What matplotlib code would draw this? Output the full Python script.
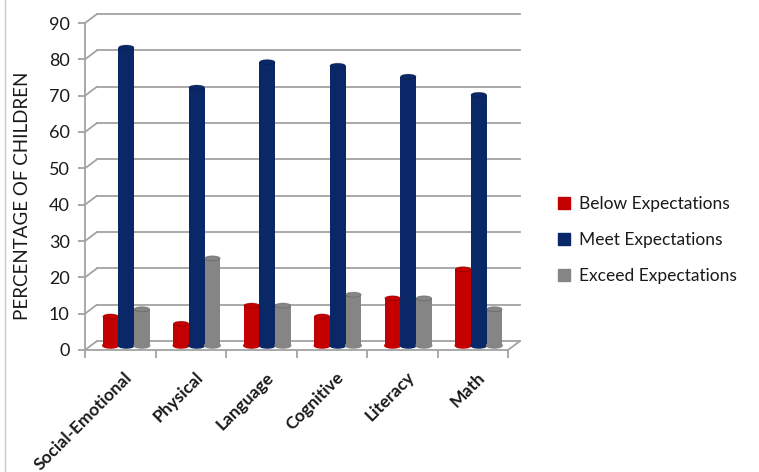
import matplotlib.pyplot as plt
from matplotlib.lines import Line2D
from matplotlib.patches import ConnectionPatch, Ellipse, Patch
from matplotlib.transforms import offset_copy

plt.rcParams['font.family'] = ['Lato', 'DejaVu Sans']

categories = ['Social-Emotional', 'Physical', 'Language', 'Cognitive', 'Literacy', 'Math']
below = [8, 6, 11, 8, 13, 21]
meet = [82, 71, 78, 77, 74, 69]
exceed = [10, 24, 11, 14, 13, 10]
series_names = ['Below Expectations', 'Meet Expectations', 'Exceed Expectations']
series_colors = ['#c40000', '#0a2868', '#858585']
y_ticks = list(range(0, 91, 10))

GRID = '#a3a3a3'
TEXT = '#1a1a1a'
DEPTH = (12, 9)  # pixel offset of the back wall from the front plane


def main():
    fig = plt.figure(figsize=(7.59, 4.72), dpi=100)
    W, H = 759, 472
    left, right, bottom, top = 85, 508, 350, 23
    ax = fig.add_axes([left / W, 1 - bottom / H, (right - left) / W, (bottom - top) / H])
    n = len(categories)
    ax.set_xlim(0, n)
    ax.set_ylim(0, 90)

    back = offset_copy(ax.transData, fig, x=DEPTH[0], y=DEPTH[1], units='dots')
    mid = offset_copy(ax.transData, fig, x=DEPTH[0] / 2, y=DEPTH[1] / 2, units='dots')

    # back wall gridlines with the short side-wall diagonals
    for v in y_ticks:
        ax.plot([0, n], [v, v], color=GRID, lw=1.3, transform=back, clip_on=False, zorder=1)
        con = ConnectionPatch(xyA=(0, v), coordsA=ax.transData, xyB=(0, v), coordsB=back,
                              color=GRID, lw=1.3, zorder=1)
        ax.add_artist(con)
    # right edge of the floor
    ax.add_artist(ConnectionPatch(xyA=(n, 0), coordsA=ax.transData, xyB=(n, 0), coordsB=back,
                                  color=GRID, lw=1.3, zorder=1))

    # cylinder-like columns
    width = 0.222
    for k, values in enumerate([below, meet, exceed]):
        col = series_colors[k]
        for i, v in enumerate(values):
            x = i + 0.5 + (k - 1) * width
            ax.bar(x, v, width=width, color=col, transform=mid, zorder=3, clip_on=False,
                   edgecolor='none')
            ax.add_patch(Ellipse((x, 0), width, 1.4, color=col, transform=mid, zorder=3,
                                 clip_on=False))
            ax.add_patch(Ellipse((x, v), width, 1.4, color=col, transform=mid, zorder=4,
                                 clip_on=False, ec='#00000030', lw=0.6))

    for side in ['top', 'right']:
        ax.spines[side].set_visible(False)
    for side in ['left', 'bottom']:
        ax.spines[side].set_color(GRID)
        ax.spines[side].set_linewidth(1.3)
    ax.patch.set_visible(False)

    ax.set_yticks(y_ticks)
    ax.set_yticklabels([str(t) for t in y_ticks], fontsize=13, color=TEXT)
    ax.tick_params(axis='y', length=5, width=1.3, color=GRID, pad=6)
    ax.set_xticks(range(n + 1))
    ax.set_xticklabels([])
    ax.tick_params(axis='x', length=6, width=1.3, color=GRID, direction='out')

    lab = offset_copy(ax.transData, fig, x=4, y=-19, units='dots')
    for i, name in enumerate(categories):
        ax.text(i + 0.5, 0, name, transform=lab, rotation=45, rotation_mode='anchor',
                ha='right', va='top', fontsize=12.5, fontweight='bold', color=TEXT)

    fig.text(23 / W, 1 - 196 / H, 'PERCENTAGE OF CHILDREN', rotation=90, ha='center',
             va='center', fontsize=13.5, color=TEXT)

    handles = [Patch(color=c) for c in series_colors]
    fig.legend(handles, series_names, loc='center left', bbox_to_anchor=(558 / W, 1 - 240 / H),
               frameon=False, fontsize=12.5, handlelength=0.7, handleheight=0.7,
               handletextpad=0.5, labelspacing=1.15, borderpad=0, borderaxespad=0,
               labelcolor=TEXT)

    fig.add_artist(Line2D([5 / W, 5 / W], [0, 1], color='#c8c8c8', lw=1))

    fig.savefig('out.png', dpi=100)


if __name__ == '__main__':
    main()
